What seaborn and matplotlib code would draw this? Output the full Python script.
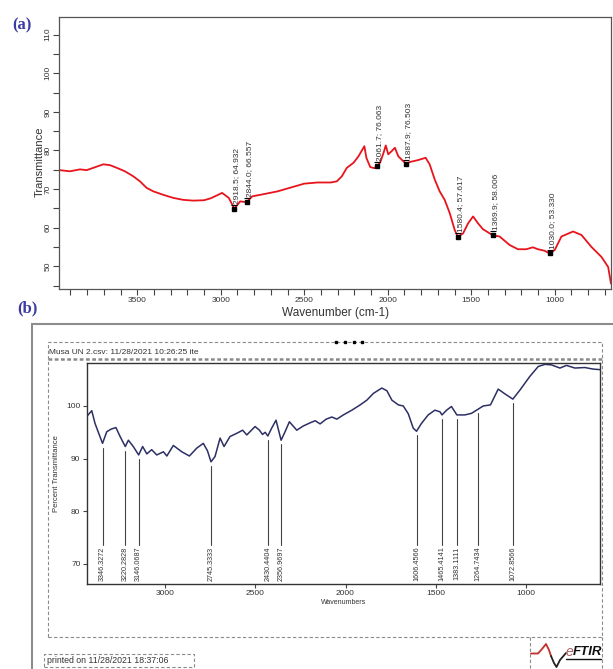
import numpy as np
import matplotlib
matplotlib.use('Agg')
from matplotlib import pyplot as plt
from matplotlib.patches import Rectangle
from matplotlib.lines import Line2D
from matplotlib.ticker import MultipleLocator
import seaborn as sns

sns.set_style('ticks')
plt.rcParams['font.family'] = ['Liberation Sans', 'DejaVu Sans']

W, H = 613, 669

# (a) spectrum
wn_a = [3967, 3903, 3843, 3803, 3763, 3704, 3664, 3623, 3574, 3524, 3484, 3444,
        3404, 3344, 3284, 3225, 3165, 3100, 3060, 2992, 2952, 2918.5, 2884, 2844,
        2812, 2740, 2660, 2580, 2500, 2420, 2340, 2305, 2275, 2245, 2205, 2175,
        2140, 2128, 2105, 2080, 2061.7, 2045, 2025, 2012, 1997, 1977, 1957, 1937,
        1907, 1887.9, 1868, 1819, 1773, 1749, 1719, 1689, 1659, 1629, 1599, 1580.4,
        1549, 1519, 1489, 1459, 1430, 1369.9, 1330, 1270, 1220, 1171, 1131, 1100,
        1060, 1030, 1000, 960, 890, 840, 780, 720, 680, 663]
t_a = [74.9, 74.6, 75.1, 74.9, 75.5, 76.4, 76.2, 75.5, 74.6, 73.3, 72.0, 70.3,
       69.4, 68.5, 67.7, 67.2, 67.0, 67.1, 67.6, 69.0, 67.7, 64.9, 66.8, 66.6,
       68.1, 68.7, 69.4, 70.4, 71.4, 71.7, 71.7, 72.0, 73.3, 75.5, 76.8, 78.5,
       81.1, 78.1, 75.7, 75.4, 76.06, 76.9, 79.4, 81.3, 79.0, 79.8, 80.7, 78.5,
       77.2, 76.5, 77.0, 77.5, 78.1, 76.4, 72.5, 69.4, 67.2, 63.8, 59.4, 57.6,
       58.5, 61.1, 62.9, 61.1, 59.6, 58.0, 57.7, 55.5, 54.4, 54.4, 54.9, 54.4,
       54.0, 53.3, 54.2, 57.7, 59.0, 58.1, 55.0, 52.4, 49.8, 45.5]
peak_wn_a = [2918.5, 2844.0, 2061.7, 1887.9, 1580.4, 1369.9, 1030.0]
peak_t_a = [64.932, 66.557, 76.063, 76.503, 57.617, 58.006, 53.330]

# (b) spectrum
wn_b = [3434, 3406, 3388, 3364, 3346.3, 3323, 3299, 3272, 3249, 3220.3, 3203, 3176,
        3146.1, 3124, 3101, 3074, 3046, 3009, 2990, 2954, 2907, 2865, 2824, 2788,
        2765, 2745.3, 2723, 2695, 2673, 2640, 2603, 2570, 2547, 2501, 2477, 2460,
        2445, 2430.4, 2409, 2385, 2356.9, 2335, 2311, 2270, 2234, 2196, 2168, 2141,
        2107, 2076, 2048, 2012, 1965, 1919, 1882, 1845, 1799, 1771, 1743, 1707,
        1680, 1652, 1625, 1606.5, 1579, 1542, 1505, 1477, 1465.4, 1440, 1413,
        1383.1, 1339, 1302, 1264.7, 1237, 1197, 1154, 1117, 1072.9, 1034, 979, 932,
        895, 859, 812, 776, 729, 674, 628, 591]
t_b = [98.0, 99.1, 96.7, 94.5, 92.9, 95.1, 95.6, 95.9, 94.2, 92.3, 93.5, 92.3,
       90.7, 92.3, 90.9, 91.7, 90.7, 91.3, 90.5, 92.5, 91.3, 90.5, 92.0, 92.9,
       91.5, 89.4, 90.4, 93.9, 92.3, 94.2, 94.8, 95.4, 94.5, 96.1, 95.4, 94.6,
       95.0, 94.3, 95.8, 97.3, 93.5, 95.1, 97.0, 95.4, 96.2, 96.8, 97.2, 96.6,
       97.5, 97.9, 97.5, 98.3, 99.2, 100.2, 101.1, 102.4, 103.4, 102.9, 101.1, 100.2,
       100.0, 98.5, 95.8, 95.2, 96.7, 98.3, 99.2, 98.9, 98.3, 99.2, 99.9,
       98.3, 98.3, 98.6, 99.4, 100.0, 100.2, 103.2, 102.3, 101.3, 103.0, 105.6, 107.5,
       107.9, 107.8, 107.2, 107.7, 107.2, 107.3, 107.0, 106.9]
peak_wn_b = [3346.3272, 3220.2828, 3146.0687, 2745.3333, 2430.4404, 2356.9697,
             1606.4566, 1465.4141, 1383.1111, 1264.7434, 1072.8566]


def fx(x):
    return x / W


def fy(y):
    return 1 - y / H


fig = plt.figure(figsize=(W / 100, H / 100), dpi=100)

# ---------------- panel (a)
ax1 = fig.add_axes([fx(59.3), fy(289), (611 - 59.3) / W, (289 - 17.3) / H])
sns.lineplot(x=wn_a, y=t_a, ax=ax1, color='#e8141c', lw=1.3)
ax1.plot(peak_wn_a, peak_t_a, 's', color='k', ms=2.5)
ax1.plot(peak_wn_a, [v + 1.0 for v in peak_t_a], '_', color='k', ms=4, mew=0.8)
for w, v in zip(peak_wn_a, peak_t_a):
    ax1.annotate('{:.1f}; {:.3f}'.format(w, v), (w, v), xytext=(1.8, 3.5),
                 textcoords='offset points', rotation=90, ha='center', va='bottom',
                 fontsize=6, color='#333333')
ax1.set_xlim(3967, 663)
ax1.set_ylim(44.1, 114.5)
ax1.xaxis.set_major_locator(MultipleLocator(500))
ax1.xaxis.set_minor_locator(MultipleLocator(100))
ax1.yaxis.set_major_locator(MultipleLocator(10))
ax1.yaxis.set_minor_locator(MultipleLocator(5))
ax1.tick_params(which='both', direction='out', length=4, width=0.8, color='#444444',
                labelsize=6, labelcolor='#333333', pad=1.5)
for lbl in ax1.get_yticklabels():
    lbl.set_rotation(90)
    lbl.set_va('center')
for s in ax1.spines.values():
    s.set_color('#555555')
    s.set_linewidth(0.9)
ax1.set_xlabel('Wavenumber (cm-1)', fontsize=8.5, color='#333333')
ax1.xaxis.set_label_coords(0.5, -0.065)
ax1.set_ylabel('Transmittance', fontsize=8, color='#333333')
ax1.yaxis.set_label_coords((44.5 - 59.3) / (611 - 59.3), 0.47)

# ---------------- panel (b)
ax2 = fig.add_axes([fx(86.7), fy(584), (600 - 86.7) / W, (584 - 363.3) / H])
sns.lineplot(x=wn_b, y=t_b, ax=ax2, color='#2c2f63', lw=1.1)
wn_sorted = wn_b[::-1]
t_sorted = t_b[::-1]
for w in peak_wn_b:
    top = np.interp(w, wn_sorted, t_sorted) - 0.8
    ax2.plot([w, w], [top, 73.6], color='#444444', lw=0.8)
    ax2.text(w, 73.3, '{:.4f}'.format(w), rotation=90, ha='center', va='top',
             fontsize=5.2, color='#333333')
ax2.set_xlim(3434, 590)
ax2.set_ylim(66.2, 108.1)
ax2.set_xticks([3000, 2500, 2000, 1500, 1000])
ax2.set_yticks([70, 80, 90, 100])
ax2.tick_params(direction='out', length=3, width=0.8, color='#444444',
                labelsize=6, labelcolor='#333333', pad=1.5)
for s in ax2.spines.values():
    s.set_color('#333333')
    s.set_linewidth(1.0)
ax2.set_xlabel('Wavenumbers', fontsize=5, color='#333333')
ax2.xaxis.set_label_coords(0.5, -0.068)
ax2.set_ylabel('Percent Transmittance', fontsize=5.5, color='#333333')
ax2.yaxis.set_label_coords((60 - 86.7) / (600 - 86.7), 0.5)

# ---------------- page decoration around (b)
fig.add_artist(Rectangle((fx(32), fy(720)), 1.0, (720 - 324) / H, transform=fig.transFigure,
                         fill=False, ec='#8c8c8c', lw=1.5))
fig.add_artist(Rectangle((fx(47.7), fy(636.7)), (602 - 47.7) / W, (636.7 - 341.7) / H,
                         transform=fig.transFigure, fill=False, ec='#8a8a8a', lw=0.8,
                         ls=(0, (3, 2))))
fig.add_artist(Line2D([fx(47.7), fx(602)], [fy(359.3)] * 2, transform=fig.transFigure,
                      color='#8a8a8a', lw=1.8, ls=(0, (1.5, 1))))
fig.add_artist(Line2D([fx(336), fx(345), fx(354), fx(362)], [fy(341.7)] * 4,
                      transform=fig.transFigure, color='k', lw=0, marker='s', ms=1.8))
fig.text(fx(49), fy(353), 'Musa UN 2.csv: 11/28/2021 10:26:25 ite', fontsize=6,
         color='#333333', va='center', ha='left')
fig.add_artist(Rectangle((fx(44.3), fy(666.7)), (194 - 44.3) / W, 12.7 / H,
                         transform=fig.transFigure, fill=False, ec='#8a8a8a', lw=0.8,
                         ls=(0, (3, 2))))
fig.text(fx(47), fy(660.5), 'printed on 11/28/2021 18:37:06', fontsize=6.3,
         color='#333333', va='center', ha='left')

# eFTIR logo
for xs in (529.7, 602):
    fig.add_artist(Line2D([fx(xs)] * 2, [fy(636.7), fy(680)], transform=fig.transFigure,
                          color='#8a8a8a', lw=0.8, ls=(0, (3, 2))))
logo_x = [531, 538, 542, 546, 549, 551]
logo_y = [653.5, 653.5, 649, 644, 650, 656]
fig.add_artist(Line2D([fx(v) for v in logo_x], [fy(v) for v in logo_y],
                      transform=fig.transFigure, color='#c0302a', lw=1.3))
logo_x2 = [551, 554, 556.5, 560, 566]
logo_y2 = [656, 663, 667, 660, 653]
fig.add_artist(Line2D([fx(v) for v in logo_x2], [fy(v) for v in logo_y2],
                      transform=fig.transFigure, color='#222222', lw=1.3))
fig.text(fx(566), fy(652), 'e', fontsize=10, style='italic', color='#b06060',
         va='center', ha='left')
fig.text(fx(573), fy(652), 'FTIR', fontsize=9.5, style='italic', weight='bold',
         color='#111111', va='center', ha='left')
fig.add_artist(Line2D([fx(566), fx(601)], [fy(659)] * 2, transform=fig.transFigure,
                      color='#111111', lw=1.0))

# panel letters
fig.text(fx(22), fy(25), '(a)', fontsize=12, weight='bold', color='#3b3ba3',
         family='Liberation Serif', ha='center', va='center')
fig.text(fx(27), fy(308), '(b)', fontsize=12, weight='bold', color='#3b3ba3',
         family='Liberation Serif', ha='center', va='center')

fig.savefig('out.png', dpi=100)
